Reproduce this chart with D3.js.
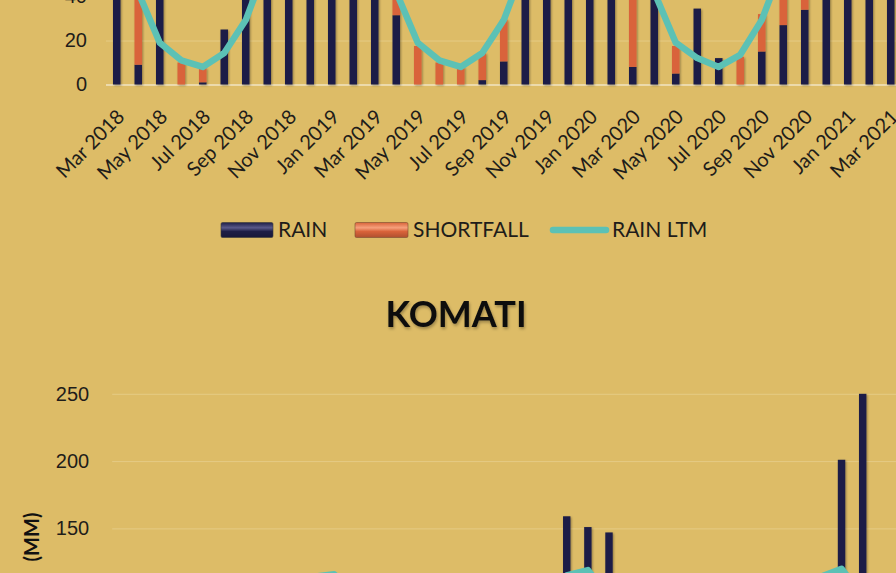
<!DOCTYPE html>
<html>
<head>
<meta charset="utf-8">
<script src="https://cdn.jsdelivr.net/npm/d3@7"></script>
<style>
  body { margin: 0; background: #ddbc67; }
  svg { display: block; font-family: Lato, "Open Sans", sans-serif; }
</style>
</head>
<body>
<svg id="chart" width="896" height="573"></svg>
<script>
// months shown on both charts
var months = ["Mar 2018","Apr 2018","May 2018","Jun 2018","Jul 2018","Aug 2018","Sep 2018","Oct 2018","Nov 2018","Dec 2018","Jan 2019","Feb 2019",
  "Mar 2019","Apr 2019","May 2019","Jun 2019","Jul 2019","Aug 2019","Sep 2019","Oct 2019","Nov 2019","Dec 2019","Jan 2020","Feb 2020",
  "Mar 2020","Apr 2020","May 2020","Jun 2020","Jul 2020","Aug 2020","Sep 2020","Oct 2020","Nov 2020","Dec 2020","Jan 2021","Feb 2021","Mar 2021"];

// upper chart (only its lower part is in view)
var rain_top = [95, 9, 55, 0, 1, 25, 60, 70, 110, 140, 150, 120,
  100, 31.5, 0, 0, 0, 2, 10.5, 75, 115, 160, 150, 145,
  8, 50, 5, 34.5, 12, 0, 15, 27, 34, 130, 200, 240, 110];
var shortfall_top = [0, 33, 0, 10, 6.5, 0, 0, 0, 0, 0, 0, 0,
  0, 10.5, 17.5, 10, 8, 12.3, 19, 0, 0, 0, 0, 0,
  84, 0, 12.5, 0, 0, 12.6, 17, 28, 56, 0, 0, 0, 0];
var ltm_top = [92, 42, 19, 11, 8, 14.3, 29.3, 55, 90, 120, 130, 110,
  92, 42, 19, 11, 8, 14.3, 29.3, 55, 90, 120, 130, 110,
  92, 42, 19, 12, 8, 13.5, 29.3, 55, 90, 120, 130, 110, 92];
var ticks_top = [0, 20, 40];

// KOMATI (only its upper part is in view)
var rain_komati = [62, 21, 9, 3, 2, 6, 18, 48, 70, 92, 104, 88,
  71, 24, 4, 1, 0, 5, 14, 52, 96, 159, 151, 147,
  66, 30, 11, 6, 3, 2, 20, 41, 83, 108, 201, 250, 97];
var shortfall_komati = [23, 24, 9, 7, 6, 6, 17, 17, 25, 22, 12, 12,
  14, 21, 14, 9, 8, 7, 21, 13, 0, 0, 0, 0,
  19, 15, 7, 4, 5, 10, 15, 24, 12, 6, 0, 0, 0];
var ltm_komati = [85, 45, 18, 10, 8, 12, 35, 65, 95, 114, 116, 100,
  85, 45, 18, 10, 8, 12, 35, 65, 95, 115, 119, 100,
  85, 45, 18, 10, 8, 12, 35, 65, 95, 114, 120, 100, 85];
var ticks_komati = [0, 50, 100, 150, 200, 250];

var legend_items = ["RAIN", "SHORTFALL", "RAIN LTM"];

var navy = "#1e1e46", orange = "#d9633a", teal = "#5cc1b5";
var grid_color = "#e5cb85", ink = "#1f1d1a";

var svg = d3.select("#chart");
svg.append("rect").attr("width", 896).attr("height", 573).attr("fill", "#ddbc67");

var defs = svg.append("defs");
defs.append("filter").attr("id", "shade").attr("x", "-50%").attr("y", "-10%").attr("width", "200%").attr("height", "120%")
  .append("feDropShadow").attr("dx", 1).attr("dy", 1).attr("stdDeviation", 1).attr("flood-opacity", 0.35);
defs.append("filter").attr("id", "tshade")
  .append("feDropShadow").attr("dx", 1).attr("dy", 2).attr("stdDeviation", 1.5).attr("flood-opacity", 0.3);

function bevel(id, base, light) {
  var g = defs.append("linearGradient").attr("id", id).attr("x1", 0).attr("y1", 0).attr("x2", 0).attr("y2", 1);
  g.append("stop").attr("offset", "0%").attr("stop-color", base);
  g.append("stop").attr("offset", "35%").attr("stop-color", light);
  g.append("stop").attr("offset", "60%").attr("stop-color", base);
  g.append("stop").attr("offset", "100%").attr("stop-color", d3.color(base).darker(0.6));
}
bevel("bev_navy", navy, "#5a5a8a");
bevel("bev_orange", orange, "#f6a07c");

function draw_chart(cfg) {
  var g = svg.append("g");
  var x = d3.scaleBand().domain(months).range(cfg.xrange).paddingInner(0.65).paddingOuter(0.325);
  var y = d3.scaleLinear().domain(cfg.ydomain).range(cfg.yrange);

  // gridlines + tick labels
  var yaxis = g.append("g").attr("transform", "translate(" + cfg.xrange[0] + ",0)")
    .call(d3.axisLeft(y).tickValues(cfg.yticks).tickSize(-(896 - cfg.xrange[0])).tickPadding(cfg.ypad).tickFormat(d3.format("d")));
  yaxis.select(".domain").remove();
  yaxis.selectAll(".tick line").attr("stroke", grid_color).attr("stroke-width", 1)
    .filter(function(d) { return d === 0; }).attr("stroke", "#f0e4c2").attr("stroke-width", 1.6);
  yaxis.selectAll(".tick text").attr("fill", ink).style("font-size", "20px");

  var stack = months.map(function(m, i) { return {m: m, rain: cfg.rain[i], short: cfg.short[i]}; });
  var bars = g.append("g").attr("filter", "url(#shade)");
  bars.selectAll(".rain").data(stack).enter().append("rect")
    .attr("x", function(d) { return x(d.m); })
    .attr("width", x.bandwidth())
    .attr("y", function(d) { return y(d.rain); })
    .attr("height", function(d) { return y(0) - y(d.rain); })
    .attr("fill", navy);
  bars.selectAll(".short").data(stack.filter(function(d) { return d.short > 0; })).enter().append("rect")
    .attr("x", function(d) { return x(d.m); })
    .attr("width", x.bandwidth())
    .attr("y", function(d) { return y(d.rain + d.short); })
    .attr("height", function(d) { return y(d.rain) - y(d.rain + d.short); })
    .attr("fill", orange);

  var line = d3.line()
    .x(function(d, i) { return x(months[i]) + x.bandwidth() / 2; })
    .y(function(d) { return y(d); });
  g.append("path").datum(cfg.ltm).attr("d", line)
    .attr("fill", "none").attr("stroke", teal).attr("stroke-width", 6.5)
    .attr("stroke-linejoin", "round").attr("stroke-linecap", "round");

  return {x: x, y: y, g: g};
}

var top_chart = draw_chart({
  xrange: [106, 901.5], ydomain: [0, 160], yrange: [84.5, -267.5],
  yticks: ticks_top, ypad: 19, rain: rain_top, short: shortfall_top, ltm: ltm_top
});

// rotated month labels, every second month
top_chart.g.append("g").selectAll("text")
  .data(months.filter(function(m, i) { return i % 2 === 0; }))
  .enter().append("text")
  .attr("transform", function(d) { return "translate(" + (top_chart.x(d) + top_chart.x.bandwidth() / 2 + 4) + ",113) rotate(-45)"; })
  .attr("text-anchor", "end").attr("dy", "0.35em")
  .attr("fill", ink).style("font-size", "20px")
  .text(function(d) { return d; });

// legend
var lg = svg.append("g").style("font-size", "21px").attr("fill", ink);
var lx = [221, 355, 550];
var tx = [278, 413, 612];
lg.append("rect").attr("x", lx[0]).attr("y", 222.5).attr("width", 52).attr("height", 15).attr("rx", 1.5).attr("fill", "url(#bev_navy)").attr("stroke", "#3a3a3a").attr("stroke-width", 0.6);
lg.append("rect").attr("x", lx[1]).attr("y", 222.5).attr("width", 53).attr("height", 15).attr("rx", 1.5).attr("fill", "url(#bev_orange)").attr("stroke", "#7a4a30").attr("stroke-width", 0.6);
lg.append("line").attr("x1", lx[2] + 3).attr("x2", lx[2] + 56).attr("y1", 230).attr("y2", 230)
  .attr("stroke", teal).attr("stroke-width", 6.5).attr("stroke-linecap", "round");
lg.selectAll("text").data(legend_items).enter().append("text")
  .attr("x", function(d, i) { return tx[i]; }).attr("y", 237)
  .text(function(d) { return d; });

// KOMATI chart
svg.append("text").attr("x", 456).attr("y", 327).attr("text-anchor", "middle")
  .style("font-size", "36px").style("font-weight", "bold").attr("fill", "#111")
  .attr("filter", "url(#tshade)").text("KOMATI");

draw_chart({
  xrange: [112.2, 894.4], ydomain: [0, 250], yrange: [730.3, 393.8],
  yticks: ticks_komati, ypad: 23, rain: rain_komati, short: shortfall_komati, ltm: ltm_komati
});

svg.append("text").attr("transform", "translate(39,537) rotate(-90)").attr("text-anchor", "middle")
  .style("font-size", "20px").style("font-weight", "bold").attr("fill", "#111").text("(MM)");
</script>
</body>
</html>
